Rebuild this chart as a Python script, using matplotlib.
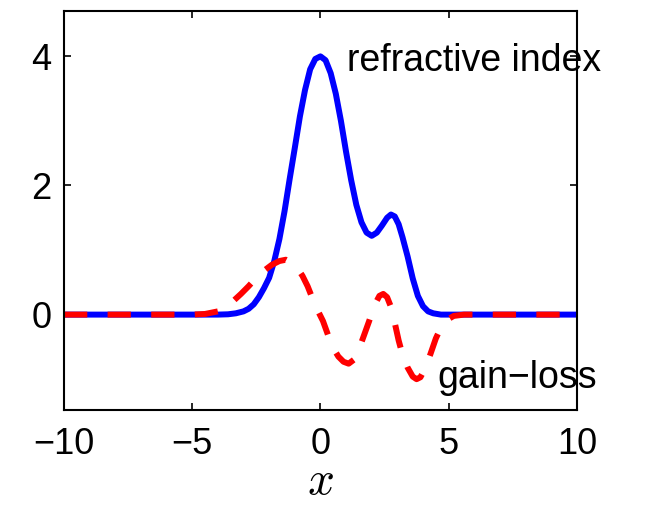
import matplotlib
matplotlib.use("Agg")
import matplotlib.pyplot as plt

# refractive index profile
x_n = [-10, -4.0, -3.6, -3.3, -3.0, -2.8, -2.6, -2.4, -2.2, -2.0, -1.8, -1.6,
       -1.4, -1.2, -1.0, -0.8, -0.6, -0.4, -0.2, 0.0, 0.2, 0.4, 0.6, 0.8, 1.0,
       1.2, 1.4, 1.6, 1.8, 2.0, 2.2, 2.4, 2.6, 2.75, 2.9, 3.05, 3.2, 3.4, 3.6,
       3.8, 4.0, 4.2, 4.4, 4.7, 10]
n_vals = [0, 0.0, 0.005, 0.02, 0.05, 0.09, 0.16, 0.27, 0.41, 0.57, 0.83, 1.17,
          1.60, 2.10, 2.58, 3.07, 3.48, 3.80, 3.96, 4.0, 3.94, 3.74, 3.42, 3.00, 2.52,
          2.08, 1.70, 1.43, 1.27, 1.22, 1.27, 1.38, 1.50, 1.55, 1.52, 1.40, 1.20, 0.90, 0.56,
          0.29, 0.13, 0.05, 0.02, 0.0, 0]

# gain-loss profile
x_g = [-10, -5.0, -4.5, -4.0, -3.7, -3.4, -3.1, -2.8, -2.5, -2.2, -1.9, -1.6,
       -1.35, -1.1, -0.9, -0.7, -0.5, -0.3, -0.1, 0.1, 0.3, 0.5, 0.7, 0.9, 1.1,
       1.3, 1.5, 1.7, 1.9, 2.1, 2.3, 2.45, 2.6, 2.75, 2.9, 3.05, 3.2, 3.4, 3.6,
       3.75, 3.9, 4.1, 4.3, 4.5, 4.7, 4.9, 5.2, 5.6, 10]
g_vals = [0, 0.0, 0.01, 0.05, 0.12, 0.21, 0.32, 0.44, 0.57, 0.68, 0.77, 0.83,
          0.85, 0.80, 0.72, 0.60, 0.44, 0.24, 0.06, -0.10, -0.32, -0.52, -0.65, -0.73, -0.76,
          -0.70, -0.54, -0.32, -0.10, 0.14, 0.29, 0.32, 0.27, 0.12, -0.13, -0.40, -0.62, -0.82, -0.96,
          -1.0, -0.97, -0.82, -0.60, -0.37, -0.20, -0.09, -0.02, 0.0, 0]

xticks = [-10, -5, 0, 5, 10]
yticks = [0, 2, 4]

plt.rcParams['font.family'] = ['Liberation Sans', 'DejaVu Sans']
plt.rcParams['mathtext.fontset'] = 'cm'

fig = plt.figure(figsize=(6.55, 5.07), dpi=100)
ax = fig.add_axes([0.0977, 0.191, 0.783, 0.787])

ax.plot(x_n, n_vals, color=(0, 0, 1), lw=4.3, solid_capstyle='round',
        solid_joinstyle='round')
ax.plot(x_g, g_vals, color=(1, 0, 0), lw=4.3, linestyle=(0, (3.9, 3.4)),
        dash_capstyle='butt', dash_joinstyle='round')

ax.text(1.05, 3.77, "refractive index", fontsize=27)
ax.text(4.57, -1.13, "gain\u2212loss", fontsize=27)

ax.set_xlim(-10, 10)
ax.set_ylim(-1.48, 4.7)
ax.set_xticks(xticks)
ax.set_yticks(yticks)
ax.set_xticklabels([str(v).replace('-', '\u2212') for v in xticks])
ax.set_yticklabels([str(v) for v in yticks])
ax.tick_params(direction='in', length=5, width=1.2, labelsize=26,
               top=True, right=True)
ax.tick_params(axis='x', pad=12)
ax.tick_params(axis='y', pad=9)
for s in ax.spines.values():
    s.set_linewidth(1.5)

ax.set_xlabel("$x$", fontsize=34, labelpad=-1.5)

fig.savefig("out.png", dpi=100)
